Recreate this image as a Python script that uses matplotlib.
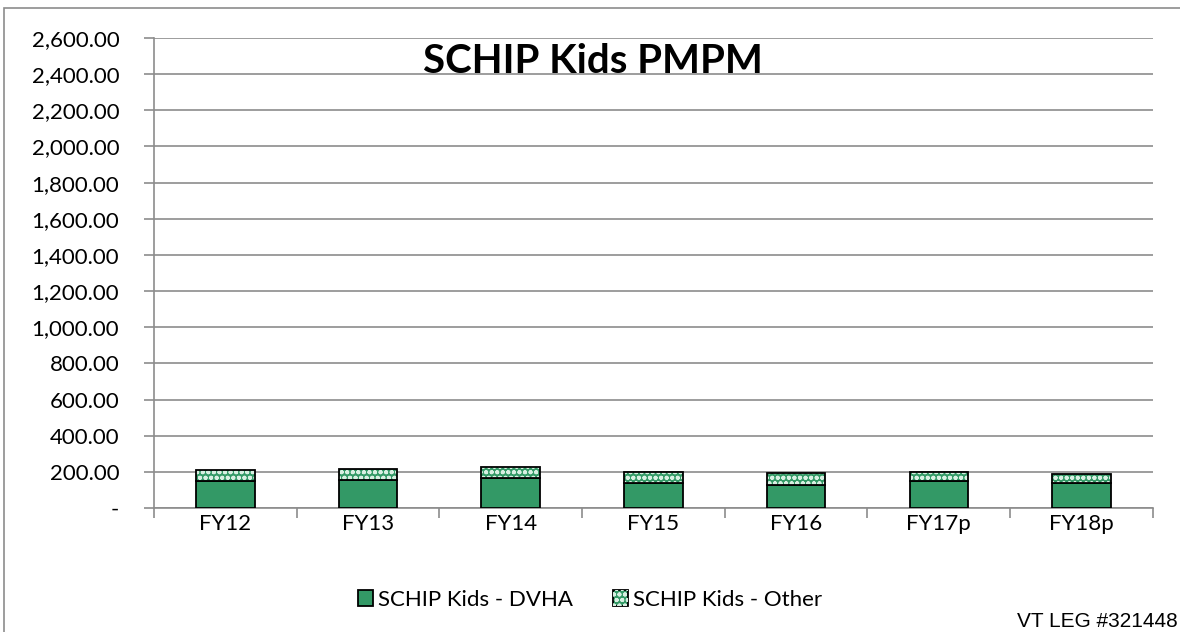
import numpy as np
import matplotlib.pyplot as plt
from matplotlib.patches import Rectangle, Patch
from matplotlib.legend_handler import HandlerTuple
from matplotlib.ticker import FuncFormatter, FixedLocator

plt.rcParams['font.family'] = ['Lato', 'DejaVu Sans']
plt.rcParams['hatch.linewidth'] = 1.3

# Data
years = ["FY12", "FY13", "FY14", "FY15", "FY16", "FY17p", "FY18p"]
dvha = [147, 155, 164, 138, 129, 149, 138]
other = [63, 60, 64, 62, 64, 48, 49]

green = "#339966"
dots = "#d8efe2"
pattern = "ooo"

fig = plt.figure(figsize=(11.8, 6.32), dpi=100)
ax = fig.add_axes([0.1305, 0.1962, 0.8465, 0.7437])

x = np.arange(len(years))
w = 0.41
ax.bar(x, dvha, w, color=green, edgecolor="black", linewidth=1.3, zorder=3)
ax.bar(x, other, w, bottom=dvha, color=green, linewidth=0, zorder=3)
# white dotted texture on the "Other" segment
ax.bar(x, other, w, bottom=dvha, color="none", edgecolor=dots, linewidth=0,
       hatch=pattern, zorder=4)
ax.bar(x, other, w, bottom=dvha, color="none", edgecolor="black", linewidth=1.3,
       zorder=5)

ax.set_xlim(-0.5, len(years) - 0.5)
ax.set_ylim(0, 2600)
ax.set_yticks(np.arange(0, 2601, 200))
ax.yaxis.set_major_formatter(FuncFormatter(lambda v, p: "-" if v == 0 else f"{v:,.2f}"))
ax.set_xticks(x)
ax.set_xticklabels(years)
ax.xaxis.set_minor_locator(FixedLocator(np.arange(-0.5, len(years), 1.0)))
ax.tick_params(axis="x", which="major", length=0, pad=4, labelsize=16)
ax.tick_params(axis="x", which="minor", length=7, color="#8c8c8c", width=1.2)
ax.tick_params(axis="y", length=7, color="#8c8c8c", width=1.2, labelsize=16, pad=18)

ax.grid(axis="y", color="#8c8c8c", linewidth=1.2, zorder=0)
ax.set_axisbelow(True)
for s in ["top", "right"]:
    ax.spines[s].set_visible(False)
for s in ["left", "bottom"]:
    ax.spines[s].set_color("#8c8c8c")
    ax.spines[s].set_linewidth(1.2)

fig.text(0.5025, 0.902, "SCHIP Kids PMPM", ha="center", va="center",
         fontsize=29, fontweight="bold")

h_dvha = Patch(facecolor=green, edgecolor="black", linewidth=1.3)
h_other = (Patch(facecolor=green, edgecolor="black", linewidth=1.3),
           Patch(facecolor="none", edgecolor=dots, linewidth=0, hatch=pattern))
fig.legend([h_dvha, h_other], ["SCHIP Kids - DVHA", "SCHIP Kids - Other"],
           handler_map={tuple: HandlerTuple(ndivide=1)},
           loc="center", bbox_to_anchor=(0.5, 0.051), ncol=2, frameon=False,
           fontsize=16, handlelength=0.7, handleheight=0.7,
           handletextpad=0.2, columnspacing=1.8)

# outer chart frame
fig.patches.append(Rectangle((0.003, -0.02), 1.2, 1.0067, transform=fig.transFigure,
                             fill=False, edgecolor="#8c8c8c", linewidth=1.2))
fig.text(0.998, 0.002, "VT LEG #321448", ha="right", va="bottom",
         fontsize=15, family="Liberation Sans")

fig.savefig("out.png", dpi=100)
